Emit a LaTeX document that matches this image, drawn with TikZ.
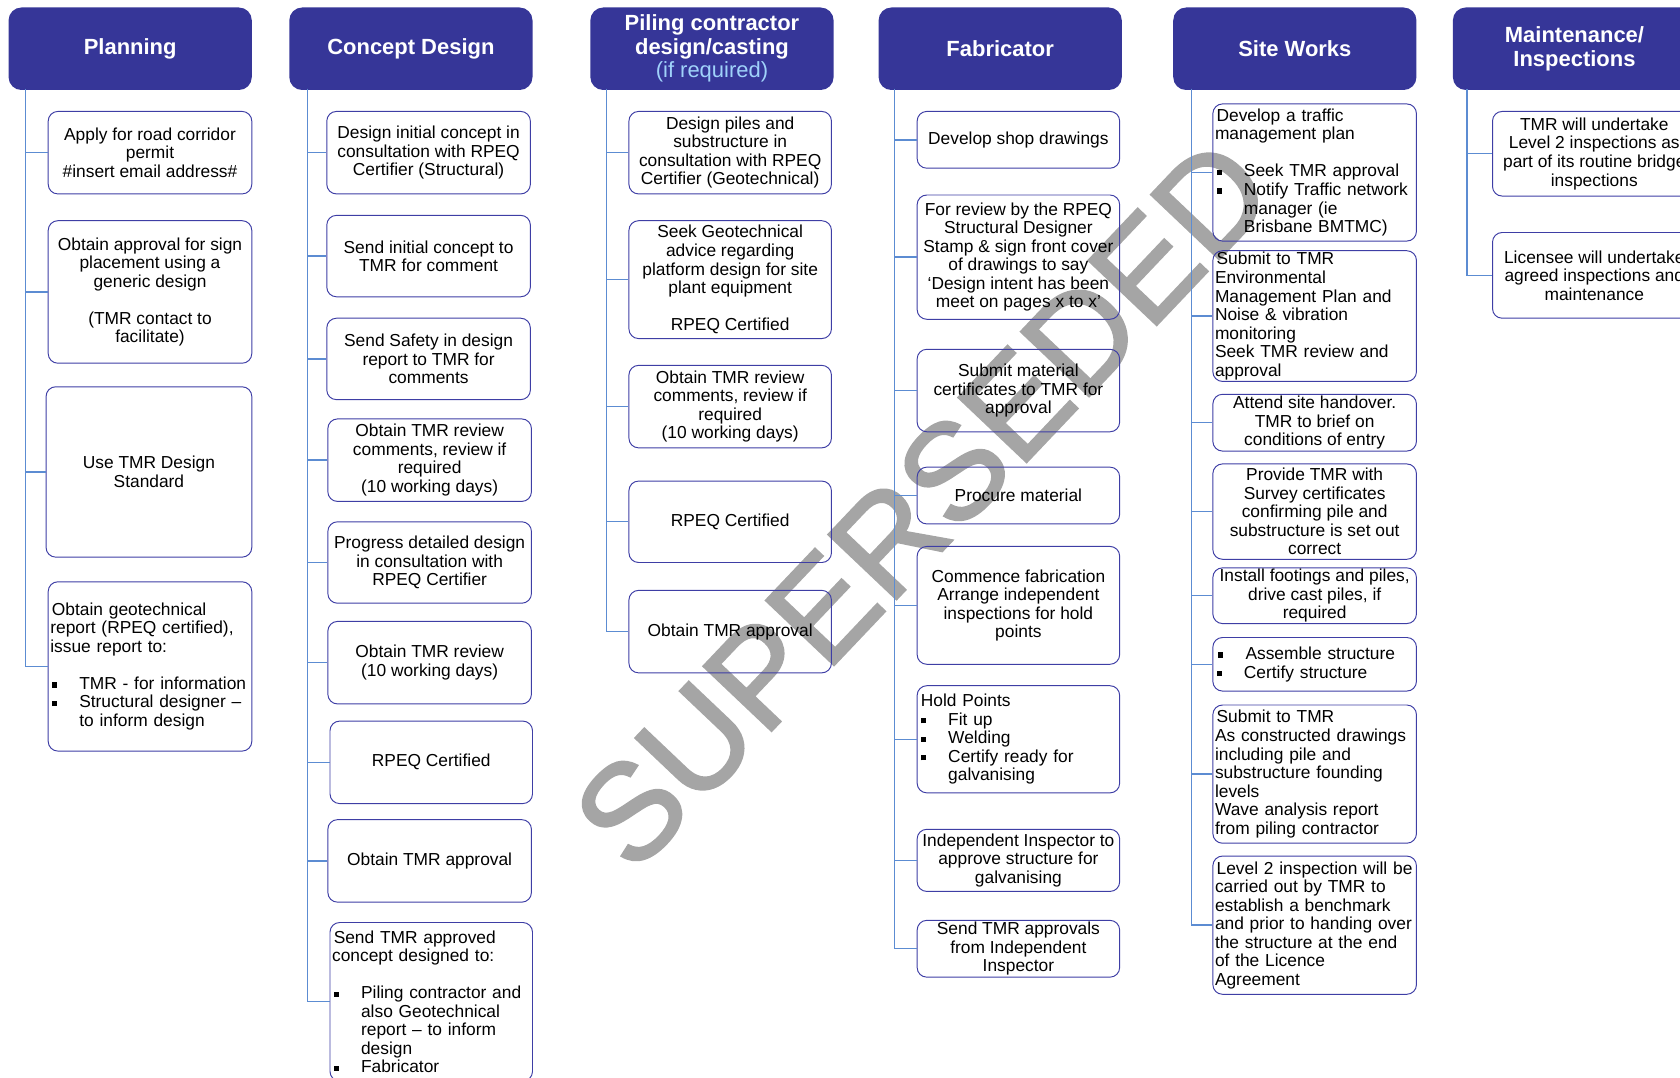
\documentclass[tikz,border=0pt]{standalone}
\usepackage{fontspec}
\setmainfont{Liberation Sans}
\newfontfamily\wmfamily{Liberation Sans}[FakeBold=1.8]
\definecolor{hdrc}{RGB}{54,54,152}
\definecolor{boxc}{RGB}{62,62,165}
\definecolor{connc}{RGB}{92,140,210}
\definecolor{ifreq}{RGB}{160,210,250}
\definecolor{wmc}{RGB}{165,165,165}
\newcommand\bodyfont{\fontsize{16.2}{17.3}\selectfont}
\newcommand\hdrfont{\fontsize{20.5}{22}\selectfont\bfseries}
\newcommand\wmfont{\wmfamily\fontsize{127}{127}\selectfont}
% bullet item and its continuation line
\newcommand\bi[1]{\makebox[27pt][l]{\hspace{1.5pt}\rule[1.8pt]{4.8pt}{4.8pt}}#1}
\newcommand\ci[1]{\hspace*{27pt}#1}
\tikzset{
  hdr/.style={fill=hdrc, rounded corners=12pt, text=white, font=\hdrfont,
    align=center, minimum width=227pt, minimum height=77pt, inner sep=0pt},
  box/.style={draw=boxc, line width=0.9pt, rounded corners=9pt,
    font=\bodyfont, inner xsep=3.5pt, inner ysep=0pt},
  lefttext/.style={inner xsep=2pt, align=left},
  conn/.style={draw=connc, line width=1.3pt},
  wm/.style={text=wmc, font=\wmfont, inner sep=0pt}
}
% centred and left-aligned boxes given by their corners
\newcommand\cbox[6]{%
  \pgfmathsetmacro\bw{#4-#2}\pgfmathsetmacro\bh{#5-#3}%
  \node[box, align=center, minimum width=\bw pt, minimum height=\bh pt]
    (#1) at ({(#2+#4)/2},{(#3+#5)/2}) {#6};}
\newcommand\lbox[6]{%
  \pgfmathsetmacro\bh{#5-#3}\pgfmathsetmacro\tw{#4-#2-4}%
  \node[box, lefttext, text width=\tw pt, minimum height=\bh pt]
    (#1) at ({(#2+#4)/2},{(#3+#5)/2}) {\hspace*{1.5pt}\ignorespaces#6};}
\begin{document}
\begin{tikzpicture}[x=1pt,y=-1pt]
\useasboundingbox (0,0) rectangle (1568,1006);

% watermark behind everything
\node[wm, rotate=46.5] (wmk) at (861,470) {SUPERSEDED};

% column headers
\node[hdr] (hP) at (121.5,45.5) {Planning};
\node[hdr] (hC) at (383.5,45.5) {Concept Design};
\node[hdr] (hL) at (664.5,45.5) {Piling contractor\\design/casting\\{\mdseries\color{ifreq}(if required)}};
\node[hdr] (hF) at (933.5,45.5) {Fabricator};
\node[hdr] (hS) at (1208.5,45.5) {Site Works};
\node[hdr] (hM) at (1469.5,45.5) {Maintenance/\\Inspections};

% trunk tops
\coordinate (tP) at (24,83);
\coordinate (tC) at (287,83);
\coordinate (tL) at (566,83);
\coordinate (tF) at (835,83);
\coordinate (tS) at (1112,83);
\coordinate (tM) at (1369,83);

% Planning
\cbox{P1}{45}{104}{235}{181}{Apply for road corridor\\permit\\\#insert email address\#}
\cbox{P2}{45}{206}{235}{339}{Obtain approval for sign\\placement using a\\generic design\\\strut\\(TMR contact to\\facilitate)}
\cbox{P3}{43}{361}{235}{520}{Use TMR Design\\Standard}
\lbox{P4}{45}{543}{235}{701}{Obtain geotechnical\\report (RPEQ certified),\\issue report to:\\\strut\\\bi{TMR - for information}\\\bi{Structural designer –}\\\ci{to inform design}}

% Concept Design
\cbox{C1}{305}{104}{495}{181}{Design initial concept in\\consultation with RPEQ\\Certifier (Structural)}
\cbox{C2}{305}{201}{495}{277}{Send initial concept to\\TMR for comment}
\cbox{C3}{305}{297}{495}{373}{Send Safety in design\\report to TMR for\\comments}
\cbox{C4}{306}{391}{496}{468}{Obtain TMR review\\comments, review if\\required\\(10 working days)}
\cbox{C5}{306}{487}{496}{563}{Progress detailed design\\in consultation with\\RPEQ Certifier}
\cbox{C6}{306}{580}{496}{657}{Obtain TMR review\\(10 working days)}
\cbox{C7}{308}{673}{497}{750}{RPEQ Certified}
\cbox{C8}{306}{765}{496}{842}{Obtain TMR approval}
\lbox{C9}{308}{861}{497}{1009}{Send TMR approved\\concept designed to:\\\strut\\\bi{Piling contractor and}\\\ci{also Geotechnical}\\\ci{report – to inform}\\\ci{design}\\\bi{Fabricator}}

% Piling contractor
\cbox{L1}{587}{104}{776}{181}{Design piles and\\substructure in\\consultation with RPEQ\\Certifier (Geotechnical)}
\cbox{L2}{587}{206}{776}{316}{Seek Geotechnical\\advice regarding\\platform design for site\\plant equipment\\\strut\\RPEQ Certified}
\cbox{L3}{587}{341}{776}{418}{Obtain TMR review\\comments, review if\\required\\(10 working days)}
\cbox{L4}{587}{449}{776}{525}{RPEQ Certified}
\cbox{L5}{587}{551}{776}{628}{Obtain TMR approval}

% Fabricator
\cbox{F1}{856}{104}{1045}{157}{Develop shop drawings}
\cbox{F2}{856}{182}{1045}{298}{For review by the RPEQ\\Structural Designer\\Stamp \& sign front cover\\of drawings to say\\‘Design intent has been\\meet on pages x to x’}
\cbox{F3}{856}{326}{1045}{403}{Submit material\\certificates to TMR for\\approval}
\cbox{F4}{856}{436}{1045}{489}{Procure material}
\cbox{F5}{856}{510}{1045}{620}{Commence fabrication\\Arrange independent\\inspections for hold\\points}
\lbox{F6}{856}{640}{1045}{740}{Hold Points\\\bi{Fit up}\\\bi{Welding}\\\bi{Certify ready for}\\\ci{galvanising}}
\cbox{F7}{856}{774}{1045}{832}{Independent Inspector to\\approve structure for\\galvanising}
\cbox{F8}{856}{859}{1045}{912}{Send TMR approvals\\from Independent\\Inspector}

% Site Works
\lbox{S1}{1132}{97}{1322}{225}{Develop a traffic\\management plan\\\strut\\\bi{Seek TMR approval}\\\bi{Notify Traffic network}\\\ci{manager (ie}\\\ci{Brisbane BMTMC)}}
\lbox{S2}{1132}{234}{1322}{356}{Submit to TMR\\Environmental\\Management Plan and\\Noise \& vibration\\monitoring\\Seek TMR review and\\approval}
\cbox{S3}{1132}{368}{1322}{421}{Attend site handover.\\TMR to brief on\\conditions of entry}
\cbox{S4}{1132}{433}{1322}{522}{Provide TMR with\\Survey certificates\\confirming pile and\\substructure is set out\\correct}
\cbox{S5}{1132}{530}{1322}{582}{Install footings and piles,\\drive cast piles, if\\required}
\lbox{S6}{1132}{595}{1322}{645}{\bi{Assemble structure}\\\bi{Certify structure}}
\lbox{S7}{1132}{658}{1322}{787}{Submit to TMR\\As constructed drawings\\including pile and\\substructure founding\\levels\\Wave analysis report\\from piling contractor}
\lbox{S8}{1132}{799}{1322}{928}{Level 2 inspection will be\\carried out by TMR to\\establish a benchmark\\and prior to handing over\\the structure at the end\\of the Licence\\Agreement}

% Maintenance / Inspections
\cbox{M1}{1393}{104}{1583}{183}{TMR will undertake\\Level 2 inspections as\\part of its routine bridge\\inspections}
\cbox{M2}{1393}{217}{1583}{297}{Licensee will undertake\\agreed inspections and\\maintenance}

% connectors: trunk down each column, branch to each box
\foreach \n in {P1,P2,P3,P4} \draw[conn] (tP) |- (\n.west);
\foreach \n in {C1,C2,C3,C4,C5,C6,C7,C8,C9} \draw[conn] (tC) |- (\n.west);
\foreach \n in {L1,L2,L3,L4,L5} \draw[conn] (tL) |- (\n.west);
\foreach \n in {F1,F2,F3,F4,F5,F6,F7,F8} \draw[conn] (tF) |- (\n.west);
\foreach \n in {S1,S2,S3,S4,S5,S6,S7,S8} \draw[conn] (tS) |- (\n.west);
\foreach \n in {M1,M2} \draw[conn] (tM) |- (\n.west);
\end{tikzpicture}
\end{document}
